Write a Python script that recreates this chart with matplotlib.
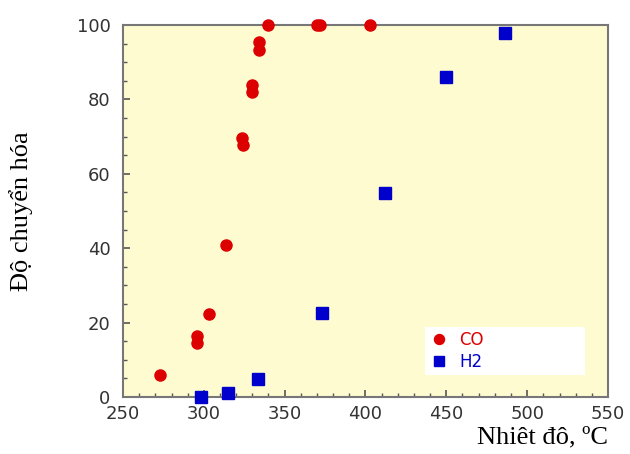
import matplotlib.pyplot as plt
from matplotlib.ticker import MultipleLocator

# CO conversion data (temperature, %)
co_temp = [273, 295.6, 295.6, 303, 313.7, 323.4, 324.4, 330, 330, 334.3, 334.3,
           340, 370, 372, 402.7]
co_conv = [5.9, 16.4, 14.4, 22.2, 40.9, 69.5, 67.7, 83.9, 82.1, 95.3, 93.3,
           100, 100, 100, 100]

# H2 conversion data
h2_temp = [298.2, 314.7, 333.5, 373.2, 412, 450, 486.2]
h2_conv = [0.1, 1, 4.8, 22.5, 54.9, 86.1, 97.8]

fig = plt.figure(figsize=(6.3, 4.54), dpi=100)
ax = fig.add_axes([123 / 630, 57 / 454, 485 / 630, 372 / 454])
ax.set_facecolor("#fffbd0")

ax.plot(co_temp, co_conv, "o", color="#dd0000", ms=8, mec="#dd0000",
        label="CO", clip_on=False, zorder=3)
ax.plot(h2_temp, h2_conv, "s", color="#0000cc", ms=8, mec="#0000cc",
        label="H2", clip_on=False, zorder=3)

ax.set_xlim(250, 550)
ax.set_ylim(0, 100)
ax.xaxis.set_major_locator(MultipleLocator(50))
ax.xaxis.set_minor_locator(MultipleLocator(10))
ax.yaxis.set_major_locator(MultipleLocator(20))
ax.yaxis.set_minor_locator(MultipleLocator(5))
ax.tick_params(which="both", direction="in", color="#555555",
               labelcolor="#333333", labelsize=13)
ax.tick_params(which="major", length=5, width=1.2)
ax.tick_params(axis="y", which="major", pad=9)
ax.tick_params(axis="x", which="major", pad=6)
ax.tick_params(which="minor", length=3, width=1)
for s in ax.spines.values():
    s.set_color("#777777")
    s.set_linewidth(1.5)

ax.set_xlabel("Nhiêt đô, ºC", fontfamily="Liberation Serif", fontsize=19)
ax.xaxis.set_label_coords(1.0, -0.08)
ax.xaxis.label.set_ha("right")
ax.set_ylabel("Độ chuyển hóa", fontfamily="Liberation Serif", fontsize=19)
ax.yaxis.set_label_coords(-0.185, 0.5)

leg = ax.legend(loc="upper left", bbox_to_anchor=(0.623, 0.065, 0.33, 0.123),
                mode="expand", borderaxespad=0, frameon=True, fancybox=False,
                framealpha=1, edgecolor="none", facecolor="white",
                fontsize=12, labelcolor="linecolor", handlelength=1.2,
                handletextpad=0.6, borderpad=0.25, labelspacing=0.2,
                markerscale=0.9)

fig.savefig("out.png", dpi=100)
